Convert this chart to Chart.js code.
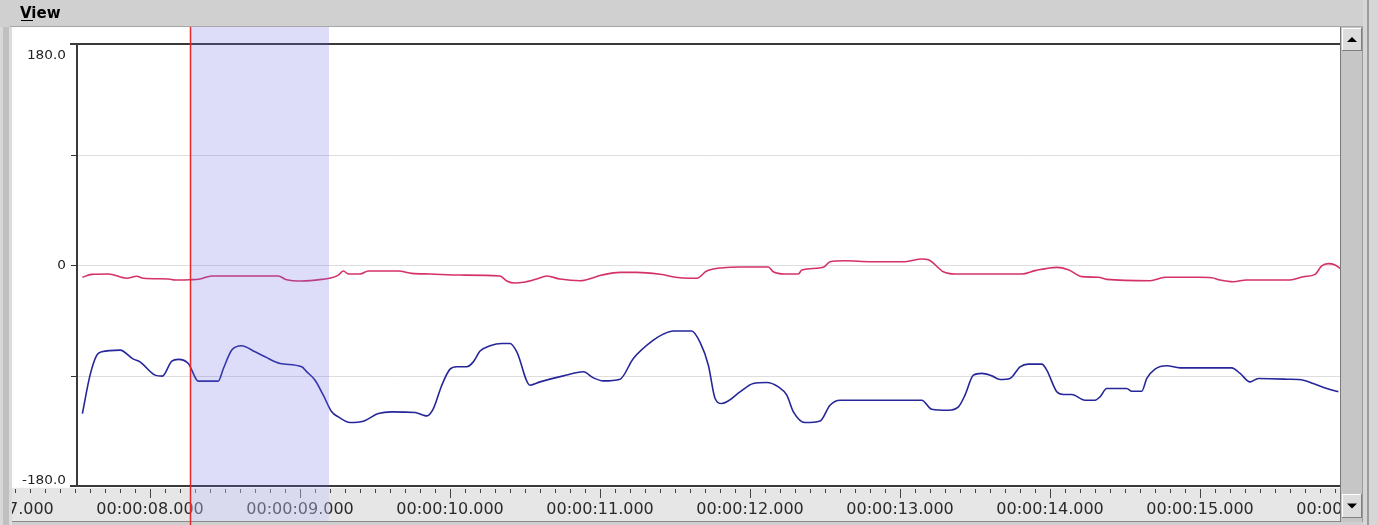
<!DOCTYPE html>
<html>
<head>
<meta charset="utf-8">
<script src="https://cdn.jsdelivr.net/npm/chart.js@4.4.0/dist/chart.umd.min.js"></script>
<style>
  html, body { margin: 0; padding: 0; background: #cfcfcf; overflow: hidden; }
  #wrap { width: 1377px; height: 525px; }
</style>
</head>
<body>
<div id="wrap"><canvas id="myChart" width="1377" height="525"></canvas></div>
<script>
// time (seconds) and angle (degrees)
var blueTimes = [7.549, 7.600, 7.645, 7.678, 7.800, 7.889, 7.933, 8.033, 8.082, 8.145, 8.189, 8.255, 8.322, 8.455, 8.489, 8.545, 8.611, 8.700, 8.767, 8.867,
    9.011, 9.045, 9.100, 9.155, 9.211, 9.255, 9.333, 9.422, 9.522, 9.611, 9.767, 9.822, 9.845, 9.889, 9.945,
    10.000, 10.045, 10.111, 10.155, 10.200, 10.267, 10.345, 10.400, 10.445, 10.533, 10.600, 10.755, 10.889, 10.955,
    11.022, 11.133, 11.222, 11.355, 11.422, 11.489, 11.611, 11.667, 11.722, 11.767, 11.811, 11.855, 11.933,
    12.022, 12.111, 12.189, 12.245, 12.289, 12.367, 12.467, 12.533, 12.600,
    13.145, 13.211, 13.322, 13.389, 13.433, 13.489, 13.545, 13.611, 13.667, 13.733, 13.800, 13.855, 13.945, 13.978,
    14.045, 14.089, 14.145, 14.233, 14.300, 14.333, 14.378, 14.511, 14.545, 14.611, 14.645, 14.700, 14.778, 14.867,
    15.211, 15.267, 15.333, 15.389, 15.578, 15.689, 15.755, 15.845, 15.922];
var blueValues = [-121, -89.7, -73.4, -70.7, -69.3, -76.7, -78.9, -89.7, -90.5, -78.3, -76.9, -80.2, -94.6, -94.6, -84.3, -69.3, -65.8, -70.7, -74.8, -80.2,
    -82.9, -87, -93.8, -106, -119.6, -123.7, -128.3, -127.2, -121, -119.6, -120.1, -122.3, -122.9, -116.9, -97.9,
    -84.8, -82.9, -82.9, -78.9, -70.1, -65.8, -63.9, -63.9, -70.7, -97.9, -95.2, -90.3, -87, -91.9,
    -94.4, -93, -76.1, -61.2, -56.3, -53.8, -53.8, -63.1, -81.6, -108.7, -112.8, -110.7, -103.3,
    -96.5, -95.7, -99.3, -106, -119.6, -128.3, -127, -114.2, -110.1,
    -110.1, -117.5, -118.3, -115.6, -106, -89.7, -88.3, -90.3, -93.2, -92.4, -82.9, -80.7, -80.7, -85.6,
    -103.3, -105.5, -105.5, -110.1, -110.1, -107.4, -100.6, -100.6, -102.8, -102.8, -92.4, -84.8, -82.1, -83.8,
    -83.8, -88.3, -95.2, -92.4, -93, -93.8, -96.5, -100.6, -103.3];

var redTimes = [7.549, 7.611, 7.722, 7.845, 7.911, 7.955, 8.122, 8.167, 8.267, 8.333, 8.411, 8.855, 8.911,
    9.011, 9.145, 9.211, 9.255, 9.289, 9.322, 9.400, 9.455, 9.655, 9.745, 9.867,
    10.067, 10.333, 10.378, 10.433, 10.489, 10.578, 10.645, 10.733, 10.867,
    11.011, 11.133, 11.245, 11.400, 11.533, 11.645, 11.711, 11.822, 11.933,
    12.122, 12.155, 12.233, 12.322, 12.345, 12.489, 12.533, 12.633, 12.811,
    13.033, 13.145, 13.189, 13.289, 13.367, 13.811, 13.900,
    14.045, 14.122, 14.211, 14.322, 14.378, 14.667, 14.767, 14.989,
    15.078, 15.133, 15.222, 15.311, 15.600, 15.689, 15.767, 15.811, 15.855, 15.900, 15.933];
var redValues = [-10, -7.6, -7.3, -10.8, -9.2, -10.8, -11.4, -12.2, -12, -11.4, -9, -9, -12,
    -13, -11.7, -10.4, -8.2, -4.9, -7.3, -7.3, -4.9, -4.9, -6.8, -7.3,
    -8.2, -9, -13, -14.7, -14.1, -11.4, -9, -11.4, -12.8,
    -8.2, -6, -6, -7.6, -10.4, -10.8, -4.9, -2.2, -1.6,
    -1.6, -5.5, -7.3, -7.3, -4.1, -1.9, 2.7, 3.5, 2.7,
    2.7, 4.9, 4.3, -5.5, -7.3, -7.3, -4.6,
    -1.9, -3.8, -9.5, -10, -11.7, -12.8, -10, -10,
    -10.4, -12.2, -13.6, -12.2, -12.2, -9.5, -7.6, -0.8, 1.1, 0, -2.7];

var yTicks = [180, 90, 0, -90, -180];
var yTickLabels = ['180.0', '', '0', '', '-180.0'];
var rulerSeconds = [7, 8, 9, 10, 11, 12, 13, 14, 15, 16];
var cursorTime = 8.267;
var selectionStart = 8.267;
var selectionEnd = 9.193;

function toPoints(ts, vs) {
    return ts.map(function (t, i) { return { x: t, y: vs[i] }; });
}

function stretchText(c, txt, x, y, sx) {
    c.save();
    c.translate(x, y);
    c.scale(sx, 1);
    c.fillText(txt, 0, 0);
    c.restore();
}

var panelChrome = {
    id: 'panelChrome',
    beforeDraw: function (chart) {
        var c = chart.ctx, xs = chart.scales.x, ys = chart.scales.y, a = chart.chartArea;
        c.save();
        // window background
        c.fillStyle = '#cfcfcf';
        c.fillRect(0, 0, 1377, 525);
        // left border strip
        c.fillStyle = '#d8d8d8'; c.fillRect(0, 27, 3, 498);
        c.fillStyle = '#c0c0c0'; c.fillRect(3, 27, 6, 498);
        c.fillStyle = '#dcdcdc'; c.fillRect(9, 27, 3, 498);
        // header
        c.fillStyle = '#d0d0d0';
        c.fillRect(0, 0, 1377, 26);
        c.fillStyle = '#a6a6a6';
        c.fillRect(10, 26, 1353, 1);
        c.fillStyle = '#000';
        c.font = 'bold 15px "DejaVu Sans"';
        c.textBaseline = 'alphabetic';
        c.textAlign = 'left';
        c.fillText('View', 20, 18);
        c.fillRect(21, 20, 12, 1);

        // white panel
        c.fillStyle = '#ffffff';
        c.fillRect(12, 27, 1328, 460);

        // grid lines
        c.strokeStyle = '#dedede';
        c.lineWidth = 1;
        yTicks.forEach(function (v) {
            if (v === 180 || v === -180) return;
            var py = Math.round(ys.getPixelForValue(v)) + 0.5;
            c.beginPath(); c.moveTo(a.left, py); c.lineTo(a.right, py); c.stroke();
        });

        // y ticks and labels
        c.strokeStyle = '#333';
        c.fillStyle = '#222';
        c.font = '13px "DejaVu Sans"';
        c.textAlign = 'right';
        c.textBaseline = 'middle';
        yTicks.forEach(function (v, i) {
            var py = Math.round(ys.getPixelForValue(v)) + 0.5;
            c.beginPath(); c.moveTo(a.left - 6, py); c.lineTo(a.left, py); c.stroke();
            var off = v === 180 ? 11 : (v === -180 ? -6 : 0);
            if (yTickLabels[i]) stretchText(c, yTickLabels[i], 66, py + off, 1.05);
        });

        // plot frame: top, left and bottom lines
        c.fillStyle = '#3a3a3a';
        c.fillRect(70, Math.round(ys.getPixelForValue(180)) - 1, a.right - 70, 2);
        c.fillRect(a.left - 1, a.top, 2, a.bottom - a.top);
        c.fillRect(70, Math.round(ys.getPixelForValue(-180)) - 1, a.right - 70, 2);

        // time ruler
        c.save();
        c.beginPath();
        c.rect(12, 487, a.right - 12, 35);
        c.clip();
        c.fillStyle = '#e6e6e6';
        c.fillRect(12, 488, a.right - 12, 33);
        c.fillStyle = '#fafafa';
        c.fillRect(12, 487, a.right - 12, 1);
        c.strokeStyle = '#444';
        c.lineWidth = 1;
        for (var i = 70; i <= 160; i++) {
            var px = Math.round(xs.getPixelForValue(i / 10)) + 0.5;
            var len = (i % 10 === 0) ? 9 : 4;
            c.beginPath(); c.moveTo(px, 489); c.lineTo(px, 489 + len); c.stroke();
        }
        c.fillStyle = '#2a2a2a';
        c.font = '16px "DejaVu Sans"';
        c.textAlign = 'center';
        c.textBaseline = 'middle';
        rulerSeconds.forEach(function (s) {
            var txt = '00:00:' + (s < 10 ? '0' : '') + s + '.000';
            c.fillText(txt, xs.getPixelForValue(s), 510);
        });
        c.restore();
        c.fillStyle = '#8a8a8a';
        c.fillRect(12, 521, a.right - 12, 1);

        // scrollbar
        c.fillStyle = '#c6c6c6';
        c.fillRect(1340, 27, 23, 495);
        c.fillStyle = '#7a7a7a';
        c.fillRect(1340, 27, 1, 495);
        c.fillStyle = '#9a9a9a';
        c.fillRect(1362, 27, 1, 495);
        [[28, 51, -1], [494, 518, 1]].forEach(function (b) {
            c.fillStyle = '#dcdcdc';
            c.fillRect(1342, b[0], 20, b[1] - b[0]);
            c.fillStyle = '#ffffff';
            c.fillRect(1342, b[0], 20, 1);
            c.fillRect(1342, b[0], 1, b[1] - b[0]);
            c.fillStyle = '#808080';
            c.fillRect(1342, b[1] - 1, 20, 1);
            c.fillRect(1361, b[0], 1, b[1] - b[0]);
            var cy = (b[0] + b[1]) / 2;
            c.fillStyle = '#000';
            c.beginPath();
            c.moveTo(1347, cy - 2.5 * b[2]);
            c.lineTo(1357, cy - 2.5 * b[2]);
            c.lineTo(1352, cy + 2.5 * b[2]);
            c.closePath();
            c.fill();
        });
        // right edge
        c.fillStyle = '#d6d6d6'; c.fillRect(1363, 0, 14, 525);
        c.fillStyle = '#9c9c9c'; c.fillRect(1367, 0, 2, 525);
        c.restore();
    },
    afterDatasetsDraw: function (chart) {
        var c = chart.ctx, xs = chart.scales.x;
        c.save();
        var x0 = Math.round(xs.getPixelForValue(selectionStart)), x1 = Math.round(xs.getPixelForValue(selectionEnd));
        // selection band over the plot, lighter tint over the ruler
        c.fillStyle = 'rgba(110, 110, 232, 0.23)';
        c.fillRect(x0, 27, x1 - x0, 460);
        c.fillStyle = 'rgba(200, 200, 255, 0.38)';
        c.fillRect(x0, 487, x1 - x0, 34);
        var cx = Math.round(xs.getPixelForValue(cursorTime)) + 0.5;
        c.strokeStyle = '#e42828';
        c.lineWidth = 1.5;
        c.beginPath(); c.moveTo(cx, 27); c.lineTo(cx, 525); c.stroke();
        c.restore();
    }
};

var ctx = document.getElementById('myChart').getContext('2d');
var myChart = new Chart(ctx, {
    type: 'line',
    data: {
        datasets: [{
            label: 'roll',
            data: toPoints(redTimes, redValues),
            borderColor: '#d4306a',
            borderWidth: 1.6,
            pointRadius: 0,
            cubicInterpolationMode: 'monotone',
            fill: false
        }, {
            label: 'pitch',
            data: toPoints(blueTimes, blueValues),
            borderColor: '#26269a',
            borderWidth: 1.6,
            pointRadius: 0,
            cubicInterpolationMode: 'monotone',
            fill: false
        }]
    },
    options: {
        responsive: false,
        animation: false,
        layout: { padding: { left: 77, top: 44, right: 37, bottom: 39 } },
        plugins: { legend: { display: false }, tooltip: { enabled: false } },
        scales: {
            x: { type: 'linear', min: 7.513, max: 15.933, display: false },
            y: { min: -180, max: 180, display: false }
        }
    },
    plugins: [panelChrome]
});
</script>
</body>
</html>
